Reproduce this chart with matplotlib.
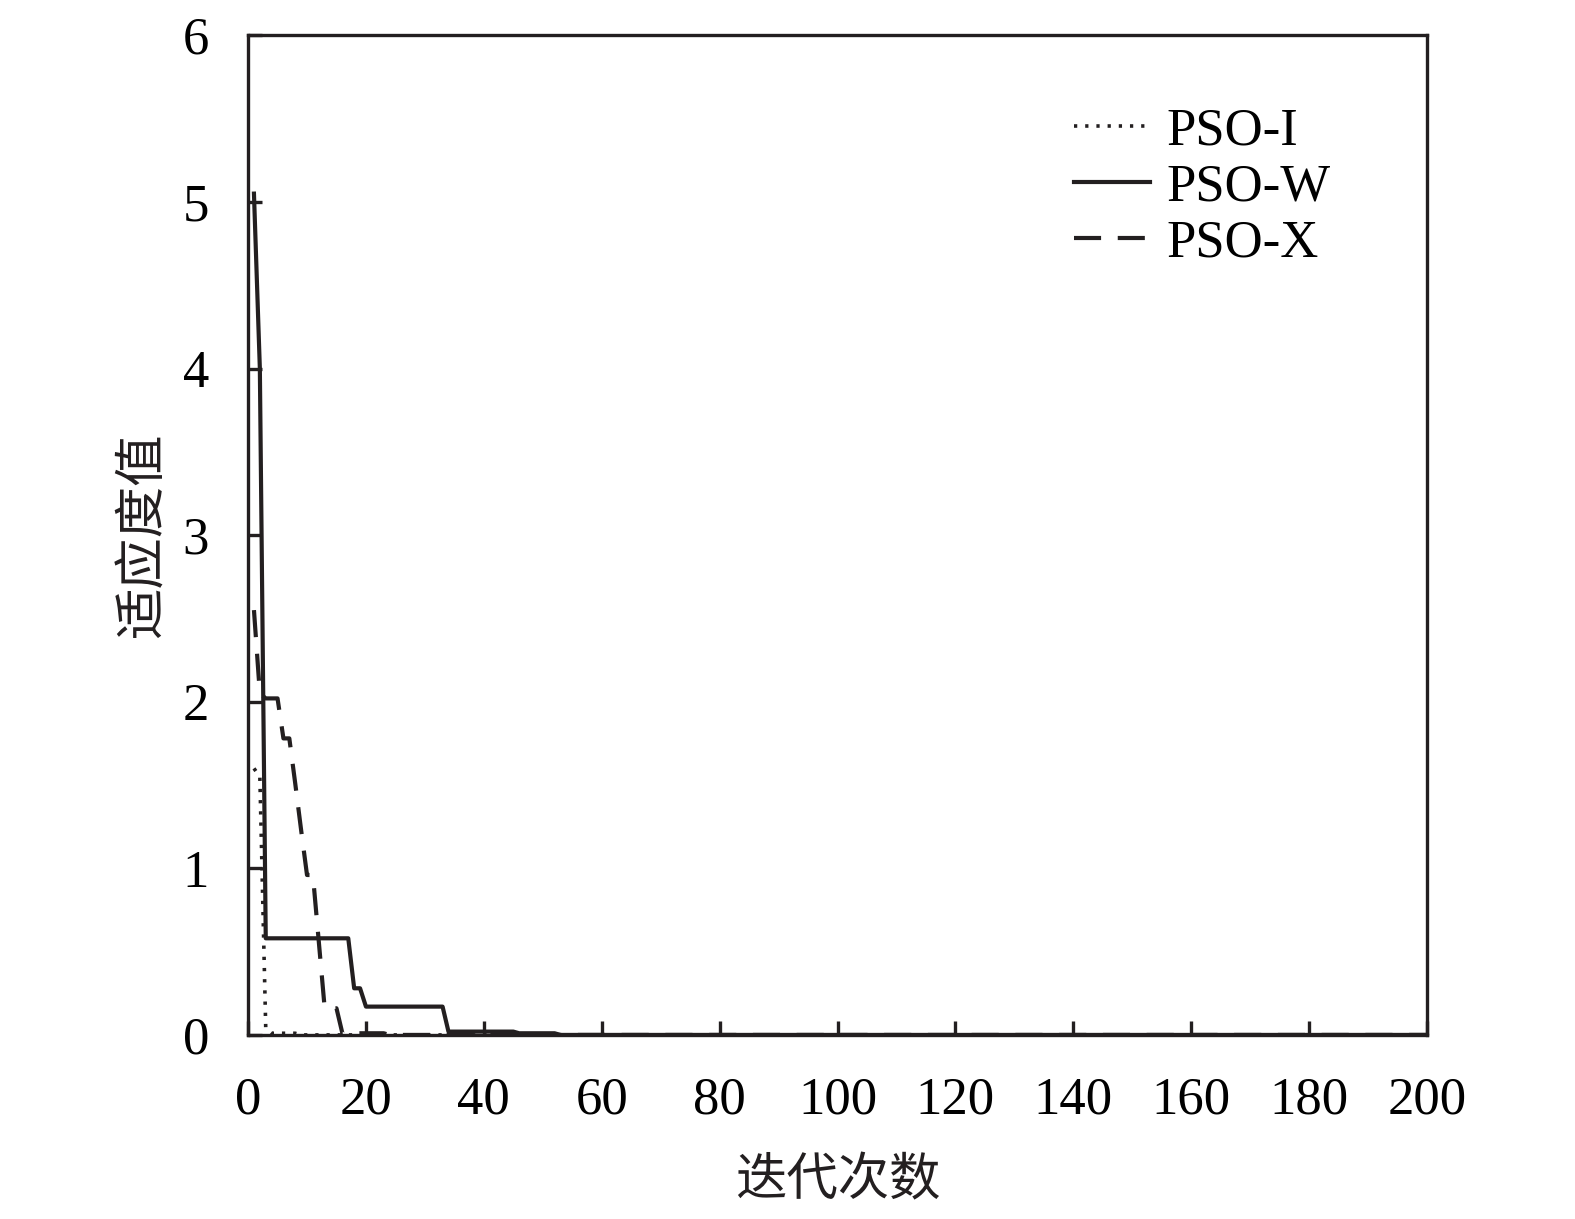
import matplotlib
matplotlib.use("Agg")
import matplotlib.pyplot as plt

plt.rcParams['font.family'] = ['Liberation Serif', 'Noto Sans CJK SC']

# 读图得到的折点 (迭代次数, 适应度值)
iter_i = [1, 2, 3, 4, 8, 9, 200]
fit_i = [1.60, 1.55, 0.04, 0.01, 0.01, 0.0, 0.0]

iter_w = [1, 2, 3, 17, 18, 19, 20, 33, 34, 45, 46, 52, 53, 200]
fit_w = [5.05, 4.0, 0.58, 0.58, 0.28, 0.28, 0.17, 0.17, 0.02, 0.02, 0.01, 0.01, 0.0, 0.0]

iter_x = [1, 2, 3, 5, 6, 7, 8, 9, 10, 11, 12, 13, 15, 16, 23, 24, 200]
fit_x = [2.55, 2.05, 2.02, 2.02, 1.78, 1.78, 1.51, 1.23, 0.96, 0.96, 0.56, 0.16, 0.16, 0.01, 0.01, 0.0, 0.0]

fig = plt.figure(figsize=(15.75, 12.19), dpi=100)
ax = fig.add_axes([0.1575, 0.151, 0.7485, 0.820])

ink = '#231f20'
ax.plot(iter_i, fit_i, color=ink, lw=2.6, linestyle=(0, (0.9, 2.2)), label='PSO-I')
ax.plot(iter_w, fit_w, color=ink, lw=3.0, linestyle='-', label='PSO-W')
ax.plot(iter_x, fit_x, color=ink, lw=3.0, linestyle=(0, (6.5, 4)), label='PSO-X')

ax.set_xlim(0, 200)
ax.set_ylim(0, 6)
ax.set_xticks(range(0, 201, 20))
ax.set_yticks(range(0, 7))

for side in ['left', 'right', 'top', 'bottom']:
    ax.spines[side].set_linewidth(2.4)
    ax.spines[side].set_color(ink)

ax.tick_params(direction='in', length=10, width=2.4, color=ink,
               labelsize=38, pad=30, top=False, right=False)
ax.tick_params(axis='y', pad=28)

ax.set_xlabel('迭代次数', fontsize=37, labelpad=24, color=ink)
ax.set_ylabel('适应度值', fontsize=37, labelpad=10, color=ink)

leg = ax.legend(loc='upper left', bbox_to_anchor=(0.6825, 0.949), frameon=False,
                fontsize=38, handlelength=1.45, handletextpad=0.3,
                labelspacing=0.15, borderaxespad=0)

plt.savefig('out.png', dpi=100)
